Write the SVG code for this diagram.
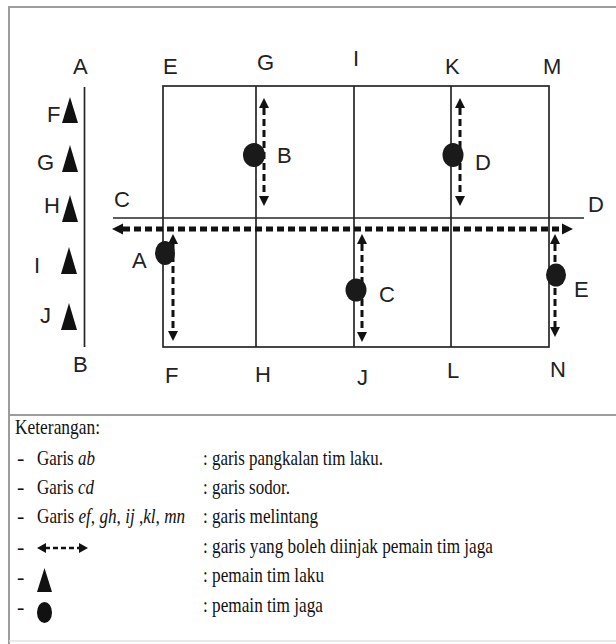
<svg xmlns="http://www.w3.org/2000/svg" width="616" height="644" viewBox="0 0 616 644">
  <style>
    .frame { stroke: #9c9c9c; stroke-width: 2; fill: none; }
    .court { stroke: #262626; stroke-width: 1.7; fill: none; }
    .lbl { font-family: "Liberation Sans", Arial, sans-serif; font-size: 22px; fill: #222; }
    .dashv { stroke: #111; stroke-width: 3; stroke-dasharray: 7 4; fill: none; }
    .dashh { stroke: #111; stroke-width: 5; stroke-dasharray: 7 4; fill: none; }
    .player { fill: #1a1a1a; }
    .leg { font-family: "Liberation Serif", "Times New Roman", serif; font-size: 22px; fill: #111; }
    .it { font-style: italic; }
  </style>
  <defs>
    <marker id="headS" viewBox="0 0 10 10" refX="0" refY="5" markerWidth="11" markerHeight="10" markerUnits="userSpaceOnUse" orient="auto-start-reverse">
      <path d="M0,0 L10,5 L0,10 z" fill="#111"/>
    </marker>
    <marker id="headL" viewBox="0 0 10 10" refX="0" refY="5" markerWidth="11" markerHeight="13" markerUnits="userSpaceOnUse" orient="auto-start-reverse">
      <path d="M0,0 L10,5 L0,10 z" fill="#111"/>
    </marker>
  </defs>

  <rect width="616" height="644" fill="#fff"/>

  <!-- outer frame and legend separator -->
  <g id="frame">
    <line class="frame" x1="9" y1="7" x2="616" y2="7"/>
    <line class="frame" x1="9" y1="6" x2="9" y2="644"/>
    <line class="frame" x1="9" y1="415" x2="616" y2="415"/>
    <line x1="9" y1="641" x2="616" y2="641" stroke="#e2e2e2" stroke-width="1.5"/>
  </g>

  <!-- playing field lines -->
  <g id="court">
    <rect class="court" x="163" y="86" width="386" height="261"/>
    <line class="court" x1="256" y1="86" x2="256" y2="347"/>
    <line class="court" x1="354" y1="86" x2="354" y2="347"/>
    <line class="court" x1="451" y1="86" x2="451" y2="347"/>
    <line class="court" x1="113" y1="218" x2="584" y2="218"/>
    <line class="court" x1="84.5" y1="87" x2="84.5" y2="347"/>
  </g>

  <!-- field labels -->
  <g id="field-labels" class="lbl">
    <text x="73" y="74">A</text>
    <text x="163" y="74">E</text>
    <text x="257" y="70">G</text>
    <text x="353" y="66">I</text>
    <text x="445" y="74">K</text>
    <text x="543" y="74">M</text>
    <text x="114" y="207">C</text>
    <text x="588" y="212">D</text>
    <text x="73" y="372">B</text>
    <text x="165" y="383">F</text>
    <text x="255" y="382">H</text>
    <text x="357" y="385">J</text>
    <text x="447" y="378">L</text>
    <text x="550" y="377">N</text>
  </g>

  <!-- attacking team players on the base line -->
  <g id="attackers">
    <g id="att-F">
      <path d="M70,97 L78,123 L62,123 z" fill="#111"/>
      <text class="lbl" x="47" y="122">F</text>
    </g>
    <g id="att-G">
      <path d="M70,145 L78,172 L62,172 z" fill="#111"/>
      <text class="lbl" x="37" y="170">G</text>
    </g>
    <g id="att-H">
      <path d="M70,195 L78,222 L62,222 z" fill="#111"/>
      <text class="lbl" x="44" y="213">H</text>
    </g>
    <g id="att-I">
      <path d="M69,247 L77,274 L61,274 z" fill="#111"/>
      <text class="lbl" x="34" y="273">I</text>
    </g>
    <g id="att-J">
      <path d="M69,303 L77,330 L61,330 z" fill="#111"/>
      <text class="lbl" x="40" y="323">J</text>
    </g>
  </g>

  <!-- movement lines of the guarding team -->
  <g id="connectors">
    <line class="dashh" x1="123" y1="229" x2="562" y2="229" marker-start="url(#headL)" marker-end="url(#headL)"/>
    <line class="dashv" x1="264" y1="108" x2="264" y2="196" marker-start="url(#headS)" marker-end="url(#headS)"/>
    <line class="dashv" x1="460" y1="108" x2="460" y2="196" marker-start="url(#headS)" marker-end="url(#headS)"/>
    <line class="dashv" x1="173" y1="244" x2="173" y2="331" marker-start="url(#headS)" marker-end="url(#headS)"/>
    <line class="dashv" x1="362" y1="244" x2="362" y2="332" marker-start="url(#headS)" marker-end="url(#headS)"/>
    <line class="dashv" x1="555" y1="244" x2="555" y2="327" marker-start="url(#headS)" marker-end="url(#headS)"/>
  </g>

  <!-- guarding team players -->
  <g id="guard-B">
    <ellipse class="player" cx="254" cy="155" rx="11" ry="12"/>
    <text class="lbl" x="277" y="163">B</text>
  </g>
  <g id="guard-D">
    <ellipse class="player" cx="453" cy="155" rx="10.5" ry="12"/>
    <text class="lbl" x="475" y="170">D</text>
  </g>
  <g id="guard-A">
    <ellipse class="player" cx="165" cy="253" rx="10" ry="12"/>
    <text class="lbl" x="132" y="268">A</text>
  </g>
  <g id="guard-C">
    <ellipse class="player" cx="356" cy="290" rx="10.5" ry="11.5"/>
    <text class="lbl" x="379" y="302">C</text>
  </g>
  <g id="guard-E">
    <ellipse class="player" cx="556" cy="275" rx="10" ry="11.5"/>
    <text class="lbl" x="574" y="297">E</text>
  </g>

  <!-- legend -->
  <g id="legend" class="leg">
    <text x="15" y="434" textLength="85" lengthAdjust="spacingAndGlyphs">Keterangan:</text>

    <text x="17" y="465">-</text>
    <text transform="translate(37,465) scale(0.77,1)">Garis <tspan class="it">ab</tspan></text>
    <text x="203" y="465" textLength="180" lengthAdjust="spacingAndGlyphs">: garis pangkalan tim laku.</text>

    <text x="17" y="494">-</text>
    <text transform="translate(37,494) scale(0.77,1)">Garis <tspan class="it">cd</tspan></text>
    <text x="203" y="494" textLength="87" lengthAdjust="spacingAndGlyphs">: garis sodor.</text>

    <text x="17" y="523">-</text>
    <text transform="translate(37,523) scale(0.78,1)">Garis <tspan class="it">ef, gh, ij ,kl, mn</tspan></text>
    <text x="203" y="523" textLength="115" lengthAdjust="spacingAndGlyphs">: garis melintang</text>

    <text x="17" y="554">-</text>
    <g id="legend-arrow">
      <line x1="45" y1="548" x2="80" y2="548" stroke="#111" stroke-width="2.5" stroke-dasharray="5 3"/>
      <path d="M37,548 L46,543 L46,553 z" fill="#111"/>
      <path d="M88,548 L79,543 L79,553 z" fill="#111"/>
    </g>
    <text x="203" y="553" textLength="290" lengthAdjust="spacingAndGlyphs">: garis yang boleh diinjak pemain tim jaga</text>

    <text x="17" y="584">-</text>
    <path d="M44.5,568 L52,592 L37,592 z" fill="#111"/>
    <text x="203" y="582" textLength="121" lengthAdjust="spacingAndGlyphs">: pemain tim laku</text>

    <text x="17" y="614">-</text>
    <ellipse cx="44.5" cy="612.5" rx="7.5" ry="10.5" fill="#111"/>
    <text x="203" y="612" textLength="120" lengthAdjust="spacingAndGlyphs">: pemain tim jaga</text>
  </g>
</svg>
